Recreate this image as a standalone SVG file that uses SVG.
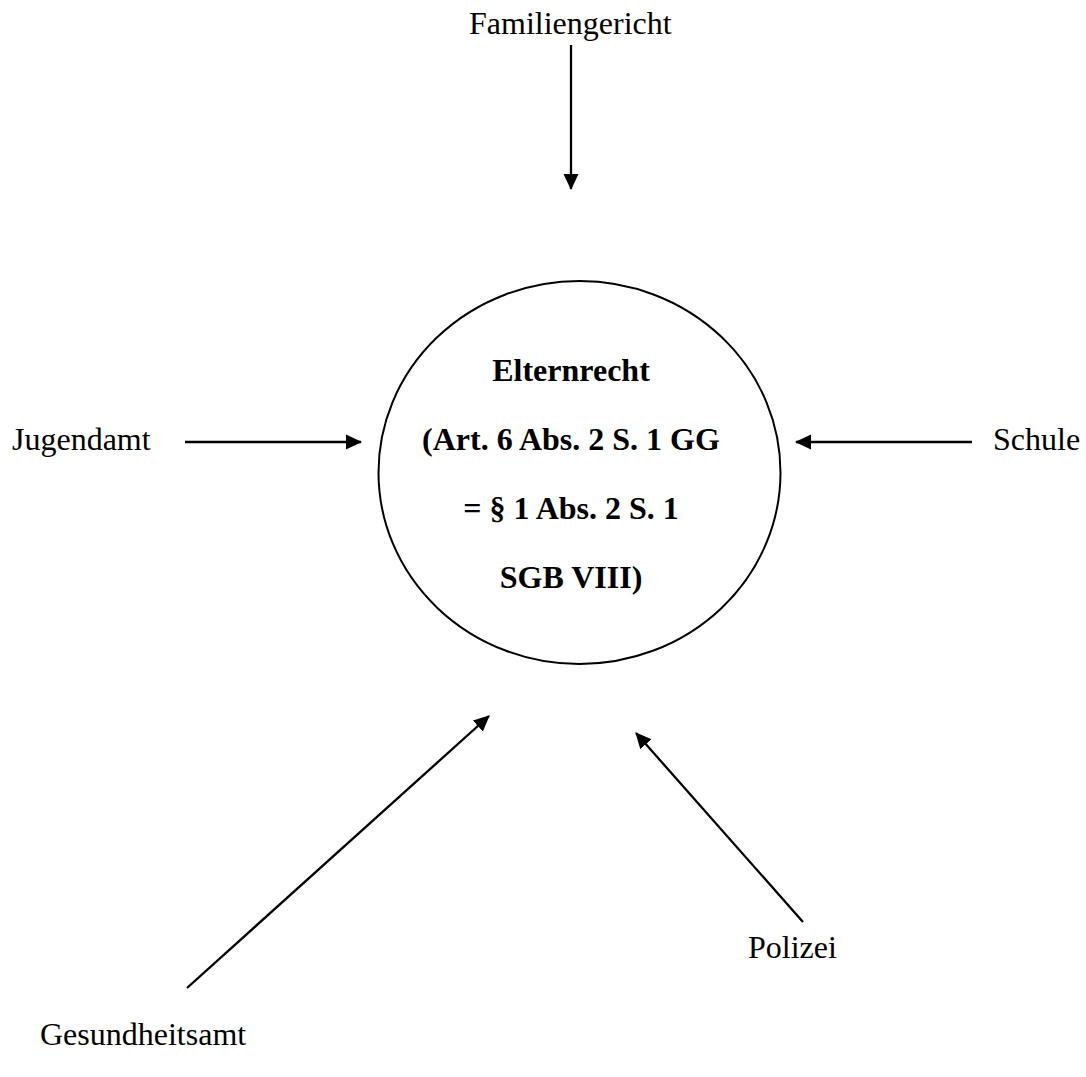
<svg xmlns="http://www.w3.org/2000/svg" width="1086" height="1077" viewBox="0 0 1086 1077">
<style>
text{font-family:"Liberation Serif","Times New Roman",serif;font-size:32px;fill:#000}
.b{font-weight:bold}
.c{fill:none;stroke:#000;stroke-width:2}
.a{stroke:#000;stroke-width:2.3;fill:none;marker-end:url(#ah)}
</style>
<defs>
<marker id="ah" viewBox="0 0 16 16" refX="15" refY="8" markerWidth="16" markerHeight="16" markerUnits="userSpaceOnUse" orient="auto">
<path d="M0,0.5 L16,8 L0,15.5 z" fill="#000"/>
</marker>
</defs>
<rect width="1086" height="1077" fill="#fff"/>
<g id="center">
<ellipse class="c" cx="579.5" cy="472.5" rx="201" ry="191.5"/>
<text class="b" x="571" y="381" text-anchor="middle">Elternrecht</text>
<text class="b" x="571" y="450" text-anchor="middle">(Art. 6 Abs. 2 S. 1 GG</text>
<text class="b" x="571" y="519" text-anchor="middle">= § 1 Abs. 2 S. 1</text>
<text class="b" x="571" y="588" text-anchor="middle">SGB VIII)</text>
</g>
<g id="familiengericht"><text x="469" y="34">Familiengericht</text></g>
<g id="jugendamt"><text x="12" y="450">Jugendamt</text></g>
<g id="schule"><text x="993" y="450">Schule</text></g>
<g id="polizei"><text x="748" y="958">Polizei</text></g>
<g id="gesundheitsamt"><text x="40" y="1045">Gesundheitsamt</text></g>
<g id="connectors">
<line class="a" x1="571" y1="45" x2="571" y2="189"/>
<line class="a" x1="185" y1="442" x2="361" y2="442"/>
<line class="a" x1="972" y1="442" x2="796" y2="442"/>
<line class="a" x1="187" y1="988" x2="489" y2="716"/>
<line class="a" x1="803" y1="922" x2="636" y2="733"/>
</g>
</svg>
